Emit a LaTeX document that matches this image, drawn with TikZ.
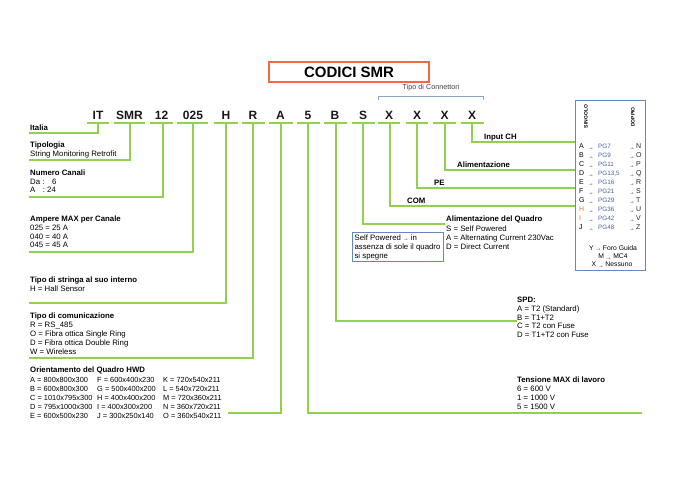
\documentclass[tikz,border=0pt]{standalone}
\usepackage{fontspec}
\setmainfont{Liberation Sans}
\definecolor{grn}{RGB}{146,208,80}
\definecolor{ttl}{RGB}{240,105,65}
\definecolor{bxb}{RGB}{100,135,190}
\definecolor{brk}{RGB}{140,165,200}
\definecolor{pgc}{RGB}{70,100,160}
\definecolor{orl}{RGB}{225,120,40}
\newcommand\fN{\fontsize{7.8}{9}\selectfont}
\newcommand\fB{\fontsize{7.8}{9}\selectfont\bfseries}
\newcommand\fT{\fontsize{7.4}{9}\selectfont}
\newcommand\arr{\raisebox{-0.8pt}{\fontsize{5.5}{6}\selectfont →}}
\begin{document}
\begin{tikzpicture}[x=1pt,y=-1pt,
  gl/.style={draw=grn,line width=1.4pt},
  ulin/.style={draw=grn,line width=1.8pt},
  code/.style={anchor=base,inner sep=0,font=\fontsize{12}{14}\selectfont\bfseries,text=black!90},
  lb/.style={anchor=base west,inner sep=0,font=\fN},
  lbb/.style={anchor=base west,inner sep=0,font=\fB},
  tb/.style={anchor=base west,inner sep=0,font=\fT},
  bx/.style={inner sep=0,font=\fontsize{6.8}{8}\selectfont}]
\fill[white] (0,0) rectangle (680,480);
\useasboundingbox (0,0) rectangle (680,480);

% title
\node[draw=ttl,line width=1.3pt,minimum width=160pt,minimum height=20pt,
  font=\fontsize{15}{16}\selectfont\bfseries] (title) at (349,72) {CODICI SMR};

% connector type bracket
\node[inner sep=0,font=\fontsize{7.2}{8}\selectfont,text=black!75] (tconn) at (431,88) {Tipo di Connettori};
\coordinate (bl) at (378,100);
\coordinate (br) at (483,100);
\draw[brk,line width=0.9pt] (bl) -- ++(0,-4) -| (br);

% code letters, underlines and connectors
\foreach \n/\t/\xc/\xl/\xr/\xv/\ye/\xe in {
  IT/IT/98/87/109/98/133/29,
  SMR/SMR/129.5/114/145/130/160/29,
  12/12/161.5/150/173/163/197/29,
  025/025/193/177/208/193/252/29,
  H/H/226/214/238/226/303/29,
  R/R/253/242/265/253/358/29,
  A/A/280.5/269/293/281/413/228,
  5/5/308/297/320/308/413/642,
  B/B/335/324/347/336/321/517,
  S/S/363/352/375/363/224/445,
  X1/X/389/378/400/390/206/575,
  X2/X/417/406/428/417/188/575,
  X3/X/444.5/433/456/445/170/575,
  X4/X/472/461/484/472/142/575}{
  \node[code] (c\n) at (\xc,119.3) {\t};
  \coordinate (ul\n) at (\xl,123);
  \coordinate (ur\n) at (\xr,123);
  \draw[ulin] (ul\n) -- (ur\n);
  \coordinate (k\n) at (\xv,123);
  \coordinate (e\n) at (\xe,\ye);
  \draw[gl] (k\n) |- (e\n);
}

% left labels
\node[lbb] (tIta) at (30,130.8) {Italia};
\node[lbb] (tTip) at (30,147.8) {Tipologia};
\node[lb] (tTip1) at (30,156.8) {String Monitoring Retrofit};
\node[lbb] (tNum) at (30,175.8) {Numero Canali};
\node[lb] (tNum1) at (30,184.8) {Da :\hspace{7.7pt}6};
\node[lb] (tNum2) at (30,192.8) {A\hspace{7.5pt}: 24};
\node[lbb] (tAmp) at (30,221.8) {Ampere MAX per Canale};
\foreach \t [count=\i] in {025 = 25 A,040 = 40 A,045 = 45 A}
  \node[lb] (tAmp\i) at (30,{230.8+8.5*(\i-1)}) {\t};
\node[lbb] (tStr) at (30,282.8) {Tipo di stringa al suo interno};
\node[lb] (tStr1) at (30,291.8) {H = Hall Sensor};
\node[lbb] (tCom) at (30,318.8) {Tipo di comunicazione};
\foreach \t [count=\i] in {R = RS\_485,O = Fibra ottica Single Ring,D = Fibra ottica Double Ring,W = Wireless}
  \node[lb] (tCom\i) at (30,{327.8+9*(\i-1)}) {\t};
\node[lbb] (tOri) at (30,372.8) {Orientamento del Quadro HWD};
\foreach \a/\b/\c [count=\i] in {
  A = 800x800x300/F = 600x400x230/K = 720x540x211,
  B = 600x800x300/G = 500x400x200/L = 540x720x211,
  C = 1010x795x300/H = 400x400x200/M = 720x360x211,
  D = 795x1000x300/I = 400x300x200/N = 360x720x211,
  E = 600x500x230/J = 300x250x140/O = 360x540x211}{
  \node[tb] (oa\i) at (30,{382.8+9*(\i-1)}) {\a};
  \node[tb] (ob\i) at (97,{382.8+9*(\i-1)}) {\b};
  \node[tb] (oc\i) at (163,{382.8+9*(\i-1)}) {\c};
}

% right labels
\node[lbb] (tIn) at (484,139.8) {Input CH};
\node[lbb] (tAl) at (457,167.8) {Alimentazione};
\node[lbb] (tPE) at (434,185.8) {PE};
\node[lbb] (tCOM) at (407,203.8) {COM};
\node[lbb] (tAQ) at (446,221.8) {Alimentazione del Quadro};
\foreach \t [count=\i] in {S = Self Powered,A = Alternating Current 230Vac,D = Direct Current}
  \node[lb] (tAQ\i) at (446,{231.2+9*(\i-1)}) {\t};
\node[draw=bxb,line width=0.8pt,minimum width=91pt,minimum height=28pt,inner sep=1.5pt,
  align=left,font=\fN] (sp) at (397.5,247) {Self Powered \arr\ in\\assenza di sole il quadro\\si spegne};
\node[lbb] (tSPD) at (517,302.8) {SPD:};
\foreach \t [count=\i] in {A = T2 (Standard),B = T1+T2,C = T2 con Fuse,D = T1+T2 con Fuse}
  \node[lb] (tSPD\i) at (517,{311.3+8.8*(\i-1)}) {\t};
\node[lbb] (tTen) at (517,382.8) {Tensione MAX di lavoro};
\foreach \t [count=\i] in {6 = 600 V,1 = 1000 V,5 = 1500 V}
  \node[lb] (tTen\i) at (517,{391.8+9*(\i-1)}) {\t};

% connector box
\node[draw=bxb,line width=0.8pt,minimum width=70pt,minimum height=170pt,anchor=north west,inner sep=0] (conn) at (575,100) {};
\node[rotate=90,inner sep=0,font=\fontsize{5}{5}\selectfont\bfseries] (sing) at (586,116.5) {SINGOLO};
\node[rotate=90,inner sep=0,font=\fontsize{5}{5}\selectfont\bfseries] (dopp) at (633,117) {DOPPIO};
\foreach \ltr/\pgn/\rtr/\clr [count=\i] in {A/PG7/N/black,B/PG9/O/black,C/PG11/P/black,
  D/{PG13,5}/Q/black,E/PG16/R/black,F/PG21/S/black,G/PG29/T/black,H/PG36/U/orl,I/PG42/V/orl,J/PG48/Z/black}{
  \node[anchor=base west,inner sep=0,font=\fontsize{7}{8}\selectfont,text=\clr] (rl\i) at (579,{148.5+9*(\i-1)}) {\ltr};
  \node[anchor=base west,inner sep=0] (ra\i) at (588,{148.5+9*(\i-1)}) {\arr};
  \node[anchor=base west,inner sep=0,font=\fontsize{6.3}{7}\selectfont,text=pgc] (rp\i) at (598,{148.5+9*(\i-1)}) {\pgn};
  \node[anchor=base west,inner sep=0] (rb\i) at (629,{148.5+9*(\i-1)}) {\arr};
  \node[anchor=base west,inner sep=0,font=\fontsize{7}{8}\selectfont,text=black!85] (rr\i) at (636,{148.5+9*(\i-1)}) {\rtr};
}
\node[bx] (fy) at (613,248) {Y \arr\ Foro Guida};
\node[bx] (fm) at (613,256.5) {M \arr\ MC4};
\node[bx] (fx) at (612,265) {X \arr\ Nessuno};
\end{tikzpicture}
\end{document}
